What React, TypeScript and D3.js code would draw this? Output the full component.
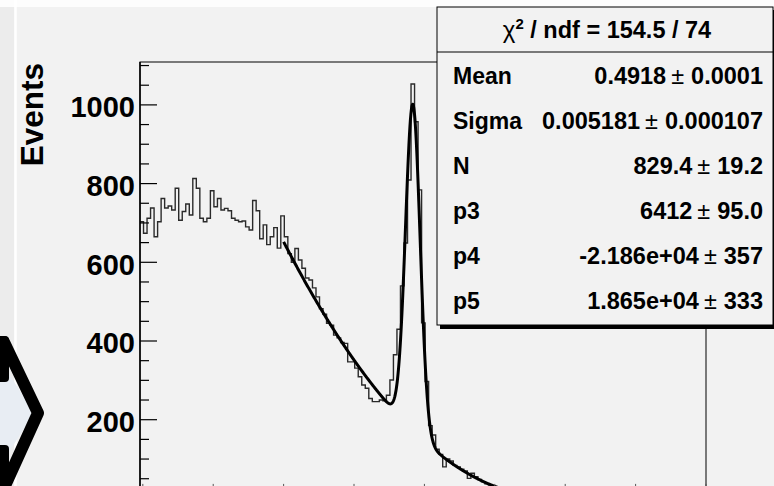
import React, { useRef, useEffect } from "react";
import * as d3 from "d3";

// histogram: 160 bins of 0.0025 starting at 0.298
const binStart = 0.298;
const binWidth = 0.0025;
const counts = [
  703, 674, 712, 738, 665, 703, 762, 738, 743, 733,
  788, 707, 729, 748, 720, 813, 788, 712, 703, 712,
  782, 741, 762, 733, 737, 731, 712, 707, 703, 705,
  690, 682, 757, 731, 660, 695, 645, 665, 688, 636,
  718, 665,
  622, 600, 635, 606, 585, 560, 555, 535, 512, 482,
  468, 445, 440, 415, 408, 396, 394, 347, 347, 331,
  309, 288, 280, 254, 246, 246, 250,
  248, 262, 301, 365, 430, 540, 649, 809, 1053, 957, 784, 446, 297, 185, 161, 125,
  112, 80, 100, 95, 84, 80, 74, 70, 51, 64, 55, 48, 42, 37, 34, 30,
  27, 24, 20, 18, 17, 14, 12, 10, 9, 8,
  7, 6, 7, 5, 4, 6, 5, 3, 4, 5,
  3, 2, 4, 3, 2, 3, 1, 2, 3, 2,
  1, 2, 1, 3, 2, 1, 2, 1, 1, 2,
  0, 1, 2, 1, 0, 1, 1, 0, 2, 1,
  0, 1, 0, 1, 0, 0, 1, 0, 0,
];

const yTickLabels = [200, 400, 600, 800, 1000];
const xMajorTicks = [0.3, 0.35, 0.4, 0.45, 0.5, 0.55, 0.6, 0.65, 0.7];

// gaus(N, Mean, Sigma) + pol2(p3, p4, p5), fitted on [0.4, 0.6]
const fitRange = [0.4, 0.6];
const fitParams = [829.4, 0.4918, 0.005181, 6412, -21860, 18650];

const chiLabel = " / ndf = 154.5 / 74";
const statLabels = ["Mean", "Sigma", "N", "p3", "p4", "p5"];
const statValues = ["0.4918", "0.005181", "829.4", "6412", "-2.186e+04", "1.865e+04"];
const statErrors = ["0.0001", "0.000107", "19.2", "95.0", "357", "333"];

const W = 774;
const H = 486;
const font = "'Liberation Sans', Arial, Helvetica, sans-serif";

function fitFn(x: number) {
  const [n, m, s, a, b, c] = fitParams;
  const z = (x - m) / s;
  return n * Math.exp(-0.5 * z * z) + a + b * x + c * x * x;
}

export default function App() {
  const ref = useRef<SVGSVGElement>(null);

  useEffect(() => {
    const svg = d3.select(ref.current);
    svg.selectAll("*").remove();

    const frame = { left: 140, top: 62, right: 706, bottom: 498.4 };
    const x = d3.scaleLinear().domain([0.298, 0.7]).range([frame.left, frame.right]);
    const y = d3.scaleLinear().domain([0, 1109]).range([frame.bottom, frame.top]);

    // page background bits
    svg.append("rect").attr("width", W).attr("height", H).attr("fill", "#f2f2f2");
    svg.append("rect").attr("width", W).attr("height", 7).attr("fill", "#fdfdfd");
    svg.append("rect").attr("x", 0).attr("y", 7).attr("width", 14).attr("height", H).attr("fill", "#ececec");
    svg.append("line").attr("x1", 15.5).attr("x2", 15.5).attr("y1", 0).attr("y2", H)
      .attr("stroke", "#ffffff").attr("stroke-width", 2.5);

    // chevron on the left edge
    svg.append("polygon").attr("points", "0,360 34,413 0,466").attr("fill", "#e8edf3");
    svg.append("rect").attr("x", -4).attr("y", 336).attr("width", 13).attr("height", 46).attr("rx", 4).attr("fill", "#000");
    svg.append("rect").attr("x", -4).attr("y", 445).attr("width", 13).attr("height", 50).attr("rx", 4).attr("fill", "#000");
    svg.append("path").attr("d", "M4,342 L38,413 L4,488")
      .attr("fill", "none").attr("stroke", "#000").attr("stroke-width", 12)
      .attr("stroke-linejoin", "round").attr("stroke-linecap", "round");

    svg.append("defs").append("clipPath").attr("id", "frameClip")
      .append("rect").attr("x", frame.left).attr("y", frame.top)
      .attr("width", frame.right - frame.left).attr("height", frame.bottom - frame.top);

    // frame
    svg.append("rect").attr("x", frame.left).attr("y", frame.top)
      .attr("width", frame.right - frame.left).attr("height", frame.bottom - frame.top)
      .attr("fill", "none").attr("stroke", "#000").attr("stroke-width", 1);

    // histogram
    const pts: [number, number][] = counts.map((c, i) => [binStart + i * binWidth, c]);
    pts.push([binStart + counts.length * binWidth, counts[counts.length - 1]]);
    const histLine = d3.line<[number, number]>()
      .x((d) => x(d[0]))
      .y((d) => y(d[1]))
      .curve(d3.curveStepAfter);
    svg.append("path").attr("d", histLine(pts)).attr("clip-path", "url(#frameClip)")
      .attr("fill", "none").attr("stroke", "#2a2a2a").attr("stroke-width", 1.4);

    // fit curve
    const fx = d3.range(fitRange[0], fitRange[1] + 1e-9, 0.0002);
    const fitLine = d3.line<number>().x((d) => x(d)).y((d) => y(fitFn(d)));
    svg.append("path").attr("d", fitLine(fx)).attr("clip-path", "url(#frameClip)")
      .attr("fill", "none").attr("stroke", "#000").attr("stroke-width", 3)
      .attr("stroke-linejoin", "round");

    // y axis
    svg.append("line").attr("x1", frame.left).attr("x2", frame.left)
      .attr("y1", frame.top).attr("y2", frame.bottom).attr("stroke", "#000").attr("stroke-width", 1.5);
    d3.range(0, 1101, 50).forEach((v) => {
      const len = v % 200 === 0 ? 17 : 9;
      svg.append("line").attr("x1", frame.left).attr("x2", frame.left + len)
        .attr("y1", y(v)).attr("y2", y(v)).attr("stroke", "#000").attr("stroke-width", 1.2);
    });
    yTickLabels.forEach((v) => {
      svg.append("text").attr("x", 135).attr("y", y(v) + 12.5)
        .attr("text-anchor", "end").attr("font-family", font).attr("font-weight", "bold")
        .attr("font-size", 29).attr("fill", "#000").text(v);
    });
    svg.append("text").attr("transform", "translate(43,63) rotate(-90)")
      .attr("text-anchor", "end").attr("font-family", font).attr("font-weight", "bold")
      .attr("font-size", 31.5).attr("fill", "#000").text("Events");

    // x axis ticks (bottom, mostly out of view)
    xMajorTicks.forEach((v) => {
      svg.append("line").attr("x1", x(v)).attr("x2", x(v))
        .attr("y1", frame.bottom).attr("y2", frame.bottom - 14.5)
        .attr("stroke", "#555").attr("stroke-width", 1);
    });

    // stats box
    const bx = 437, by = 7, bw = 336, bh = 318;
    svg.append("rect").attr("x", bx + 3).attr("y", by + bh).attr("width", bw + 3).attr("height", 4).attr("fill", "#000");
    svg.append("rect").attr("x", bx + bw).attr("y", by + 3).attr("width", 4).attr("height", bh + 1).attr("fill", "#000");
    svg.append("rect").attr("x", bx).attr("y", by).attr("width", bw).attr("height", bh)
      .attr("fill", "#f2f2f2").attr("stroke", "#000").attr("stroke-width", 1);
    svg.append("line").attr("x1", bx).attr("x2", bx + bw).attr("y1", 52).attr("y2", 52)
      .attr("stroke", "#000").attr("stroke-width", 1);

    const head = svg.append("text").attr("x", 607).attr("y", 37.5)
      .attr("text-anchor", "middle").attr("font-family", font).attr("font-weight", "bold")
      .attr("font-size", 23.5).attr("fill", "#000").style("white-space", "pre");
    head.append("tspan").attr("font-weight", "normal").attr("font-size", 24).text("χ");
    head.append("tspan").attr("font-size", 15).attr("dy", -9).text("2");
    head.append("tspan").attr("dy", 9).text(chiLabel);

    statLabels.forEach((lab, i) => {
      const ty = 84 + 45 * i;
      svg.append("text").attr("x", 453).attr("y", ty)
        .attr("font-family", font).attr("font-weight", "bold").attr("font-size", 23)
        .attr("fill", "#000").text(lab);
      const t = svg.append("text").attr("x", 763).attr("y", ty).attr("text-anchor", "end")
        .attr("font-family", font).attr("font-weight", "bold").attr("font-size", 23.5).attr("fill", "#000");
      t.append("tspan").text(statValues[i]);
      t.append("tspan").attr("dx", 5).attr("font-weight", "normal").attr("font-size", 23.5).text("±");
      t.append("tspan").attr("dx", 7).text(statErrors[i]);
    });
  }, []);

  return (
    <svg ref={ref} width={W} height={H}
      style={{ position: "absolute", left: 0, top: 0, display: "block" }} />
  );
}
